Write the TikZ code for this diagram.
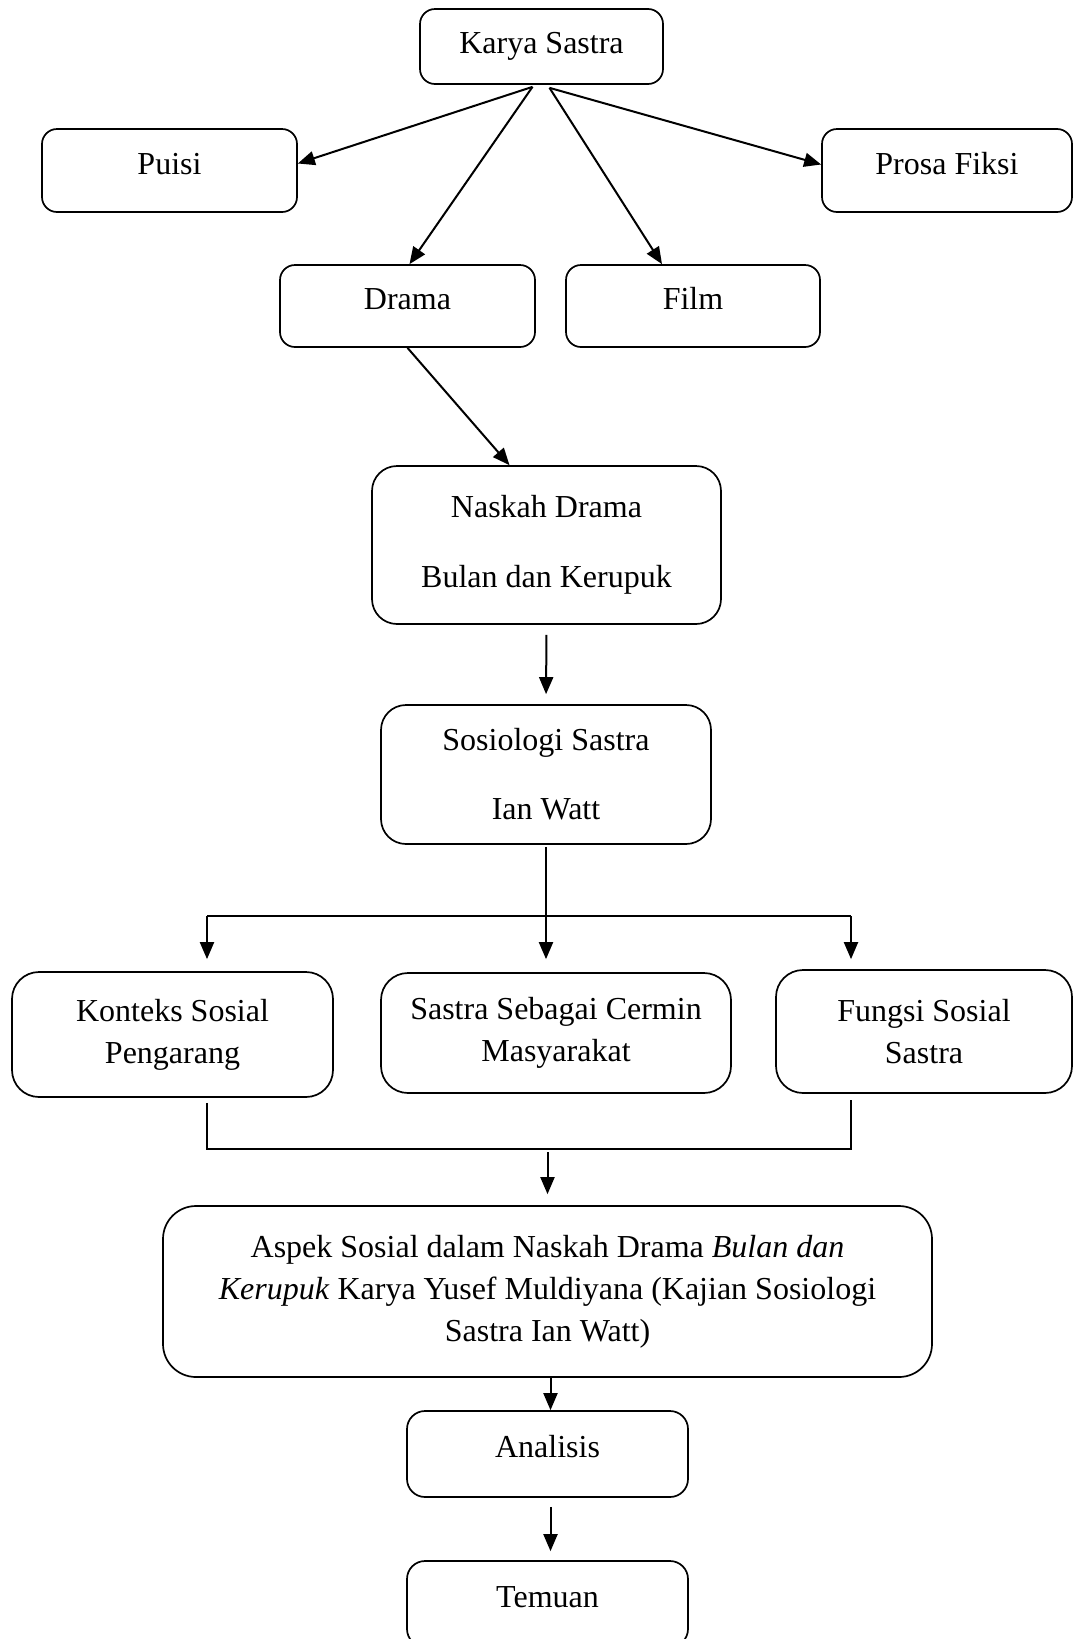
\documentclass[tikz,border=0pt]{standalone}
\usepackage{fontspec}
\setmainfont{Liberation Serif}
\usepackage{tikz}
\usetikzlibrary{arrows.meta}

\begin{document}
\begin{tikzpicture}[
    x=1pt, y=-1pt,
    box/.style={draw, line width=1.7pt, rounded corners=15pt, inner sep=0pt,
        align=center, font=\fontsize{32}{42}\selectfont},
    single/.style={text height=22pt, text depth=15pt},
    link/.style={line width=2pt},
    arrow/.style={link, -{Triangle[length=17pt, width=14pt]}}
]
    \useasboundingbox (0,0) rectangle (1072,1639);

    % Jenis karya sastra
    \node[box, minimum width=243, minimum height=75, text depth=8pt] (karya) at (541.5,46.5) {Karya Sastra};
    \node[box, single, minimum width=255, minimum height=83] (puisi) at (169.5,170.5) {Puisi};
    \node[box, single, minimum width=250, minimum height=83] (prosa) at (947,170.5) {Prosa Fiksi};
    \node[box, single, minimum width=255, minimum height=82] (drama) at (407.5,306) {Drama};
    \node[box, single, minimum width=254, minimum height=82] (film) at (693,306) {Film};

    % Objek dan teori
    \node[box, rounded corners=25pt, minimum width=349, minimum height=158] (naskah) at (546.5,545)
        {Naskah Drama\\[28pt]Bulan dan Kerupuk};
    \node[box, rounded corners=25pt, minimum width=330, minimum height=139] (sosio) at (546,774.5)
        {Sosiologi Sastra\\[27pt]Ian Watt};

    % Tiga pendekatan Ian Watt
    \node[box, rounded corners=27pt, minimum width=321, minimum height=125] (konteks) at (172.5,1034.5)
        {Konteks Sosial\\Pengarang};
    \node[box, rounded corners=27pt, minimum width=350, minimum height=120] (sastra) at (556,1033)
        {Sastra Sebagai Cermin\\Masyarakat};
    \node[box, rounded corners=27pt, minimum width=296, minimum height=123] (fungsi) at (924,1031.5)
        {Fungsi Sosial\\Sastra};

    % Judul, analisis, temuan
    \node[box, rounded corners=33pt, minimum width=769, minimum height=171] (aspek) at (547.5,1291.5)
        {Aspek Sosial dalam Naskah Drama \textit{Bulan dan}\\
         \textit{Kerupuk} Karya Yusef Muldiyana (Kajian Sosiologi\\
         Sastra Ian Watt)};
    \node[box, single, rounded corners=18pt, minimum width=281, minimum height=86] (analisis) at (547.5,1454) {Analisis};
    \node[box, single, rounded corners=18pt, minimum width=281, minimum height=86] (temuan) at (547.5,1604) {Temuan};

    % Connections
    \draw[arrow] ([xshift=-9pt,yshift=-2pt]karya.south) -- ([yshift=7pt]puisi.east);
    \draw[arrow] ([xshift=-9pt,yshift=-2pt]karya.south) -- ([xshift=2pt]drama.north);
    \draw[arrow] ([xshift=8pt,yshift=-3pt]karya.south) -- ([xshift=-31pt]film.north);
    \draw[arrow] ([xshift=8pt,yshift=-3pt]karya.south) -- ([yshift=6pt]prosa.west);
    \draw[arrow] (drama.south) -- ([xshift=-37pt]naskah.north);
    \draw[arrow, shorten <=10pt, shorten >=10pt] (naskah.south) -- (sosio.north);

    % Percabangan
    \coordinate (splitL) at (207,916);
    \coordinate (splitR) at (851,916);
    \draw[link] (splitL) -- (splitR);
    \draw[arrow, shorten <=2pt, shorten >=13pt] (sosio.south) -- (sosio.south |- sastra.north);
    \draw[arrow, shorten >=12pt] (splitL) -- (splitL |- konteks.north);
    \draw[arrow, shorten >=10pt] (splitR) -- (splitR |- fungsi.north);

    % Penggabungan
    \coordinate (joinL) at (207,1149);
    \coordinate (joinR) at (851,1149);
    \draw[link, shorten <=5pt, shorten >=6pt] (joinL |- konteks.south) -- (joinL) -- (joinR) -- (joinR |- fungsi.south);
    \draw[arrow, shorten <=3pt, shorten >=11pt] (aspek.north |- joinL) -- (aspek.north);

    \draw[arrow] ([xshift=3pt]aspek.south) -- ([xshift=3pt]analisis.north);
    \draw[arrow, shorten <=9pt, shorten >=9pt] ([xshift=3pt]analisis.south) -- ([xshift=3pt]temuan.north);
\end{tikzpicture}
\end{document}
